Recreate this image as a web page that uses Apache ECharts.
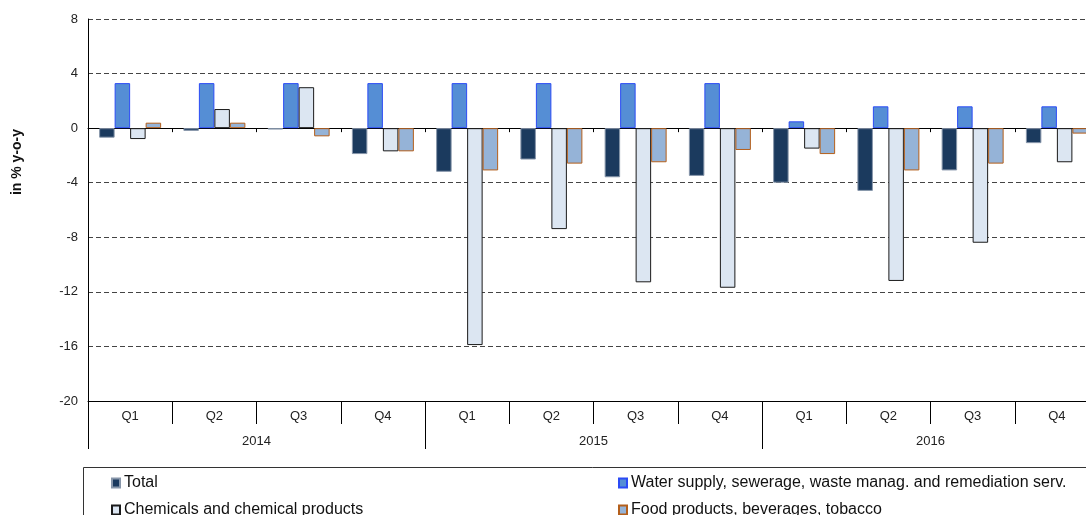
<!DOCTYPE html>
<html>
<head>
<meta charset="utf-8">
<script src="https://cdn.jsdelivr.net/npm/echarts@6/dist/echarts.min.js"></script>
<style>
html,body{margin:0;padding:0;overflow:hidden;background:#fff;}
#c{width:1100px;height:560px;}
</style>
</head>
<body>
<div id="c"></div>
<script>
var quarters = ['Q1','Q2','Q3','Q4','Q1','Q2','Q3','Q4','Q1','Q2','Q3','Q4'];
var years = ['2014','2015','2016'];
var seriesNames = ['Total','Water supply, sewerage, waste manag. and remediation serv.','Chemicals and chemical products','Food products, beverages, tobacco'];
var totalVals = [-0.7,-0.2,-0.1,-1.9,-3.2,-2.3,-3.6,-3.5,-4.0,-4.6,-3.1,-1.1];
var waterVals = [3.3,3.3,3.3,3.3,3.3,3.3,3.3,3.3,0.5,1.6,1.6,1.6];
var chemVals  = [-0.8,1.4,3.0,-1.7,-15.9,-7.4,-11.3,-11.7,-1.5,-11.2,-8.4,-2.5];
var foodVals  = [0.4,0.4,-0.6,-1.7,-3.1,-2.6,-2.5,-1.6,-1.9,-3.1,-2.6,-0.4];
var yTicks = [-20,-16,-12,-8,-4,0,4,8];

var FONT = '"Liberation Sans", Arial, sans-serif';
var chart = echarts.init(document.getElementById('c'));

function barSeries(name, data, fill, border) {
  return {
    name: name, type: 'bar', xAxisIndex: 0, yAxisIndex: 0,
    data: data, barWidth: 15.5, barGap: '0%',
    itemStyle: {color: fill, borderColor: border, borderWidth: 1},
    emphasis: {disabled: true}
  };
}

chart.setOption({
  animation: false,
  backgroundColor: '#fff',
  textStyle: {fontFamily: FONT},
  grid: {left: 88, right: 1, top: 19, bottom: 159, containLabel: false},
  xAxis: [
    {
      type: 'category', data: quarters, position: 'bottom',
      axisLine: {show: true, onZero: false, lineStyle: {color: '#000', width: 1}},
      axisTick: {show: true, interval: 0, length: 23, lineStyle: {color: '#000'}},
      axisLabel: {interval: 0, margin: 9, fontSize: 13, color: '#222', fontFamily: FONT},
      splitLine: {show: false}
    },
    {
      type: 'category', data: years, position: 'bottom',
      axisLine: {show: false, onZero: false},
      axisTick: {show: true, interval: 0, length: 48, lineStyle: {color: '#000'}},
      axisLabel: {interval: 0, margin: 34, fontSize: 13, color: '#222', fontFamily: FONT},
      splitLine: {show: false}
    },
    {
      type: 'category', data: quarters, position: 'bottom',
      axisLine: {show: true, onZero: true, lineStyle: {color: '#000', width: 1}},
      axisTick: {show: true, interval: 0, length: 4, lineStyle: {color: '#000'}},
      axisLabel: {show: false},
      splitLine: {show: false}
    }
  ],
  yAxis: {
    type: 'value', min: yTicks[0], max: yTicks[yTicks.length - 1], interval: 4,
    axisLine: {show: true, lineStyle: {color: '#000', width: 1}},
    axisTick: {show: false},
    axisLabel: {fontSize: 13, color: '#222', margin: 10, fontFamily: FONT},
    splitLine: {show: true, lineStyle: {color: '#444', type: [5, 3], width: 1}}
  },
  legend: [
    {
      data: [seriesNames[0], seriesNames[2]],
      orient: 'vertical', left: 106, top: 470, itemGap: 11,
      itemWidth: 8, itemHeight: 9, icon: 'rect',
      textStyle: {fontSize: 16, color: '#111', fontFamily: FONT, padding: [0,0,0,-1]},
      selectedMode: false
    },
    {
      data: [seriesNames[1], seriesNames[3]],
      orient: 'vertical', left: 613, top: 470, itemGap: 11,
      itemWidth: 8, itemHeight: 9, icon: 'rect',
      textStyle: {fontSize: 16, color: '#111', fontFamily: FONT, padding: [0,0,0,-1]},
      selectedMode: false
    }
  ],
  graphic: [
    {
      type: 'rect', silent: true,
      shape: {x: 83.5, y: 467.5, width: 1100, height: 100},
      style: {fill: 'none', stroke: '#333', lineWidth: 1}
    },
    {
      type: 'text', x: 17, y: 162, rotation: Math.PI / 2, silent: true,
      style: {text: 'in % y-o-y', font: 'bold 14px ' + FONT, fill: '#111',
              textAlign: 'center', textVerticalAlign: 'middle'}
    }
  ],
  series: [
    barSeries(seriesNames[0], totalVals, '#1B3A5E', '#8796aa'),
    barSeries(seriesNames[1], waterVals, '#558ED5', '#2B4BF5'),
    barSeries(seriesNames[2], chemVals, '#DCE6F2', '#1a1a1a'),
    barSeries(seriesNames[3], foodVals, '#95B3D7', '#B45F1B')
  ]
});
</script>
</body>
</html>
